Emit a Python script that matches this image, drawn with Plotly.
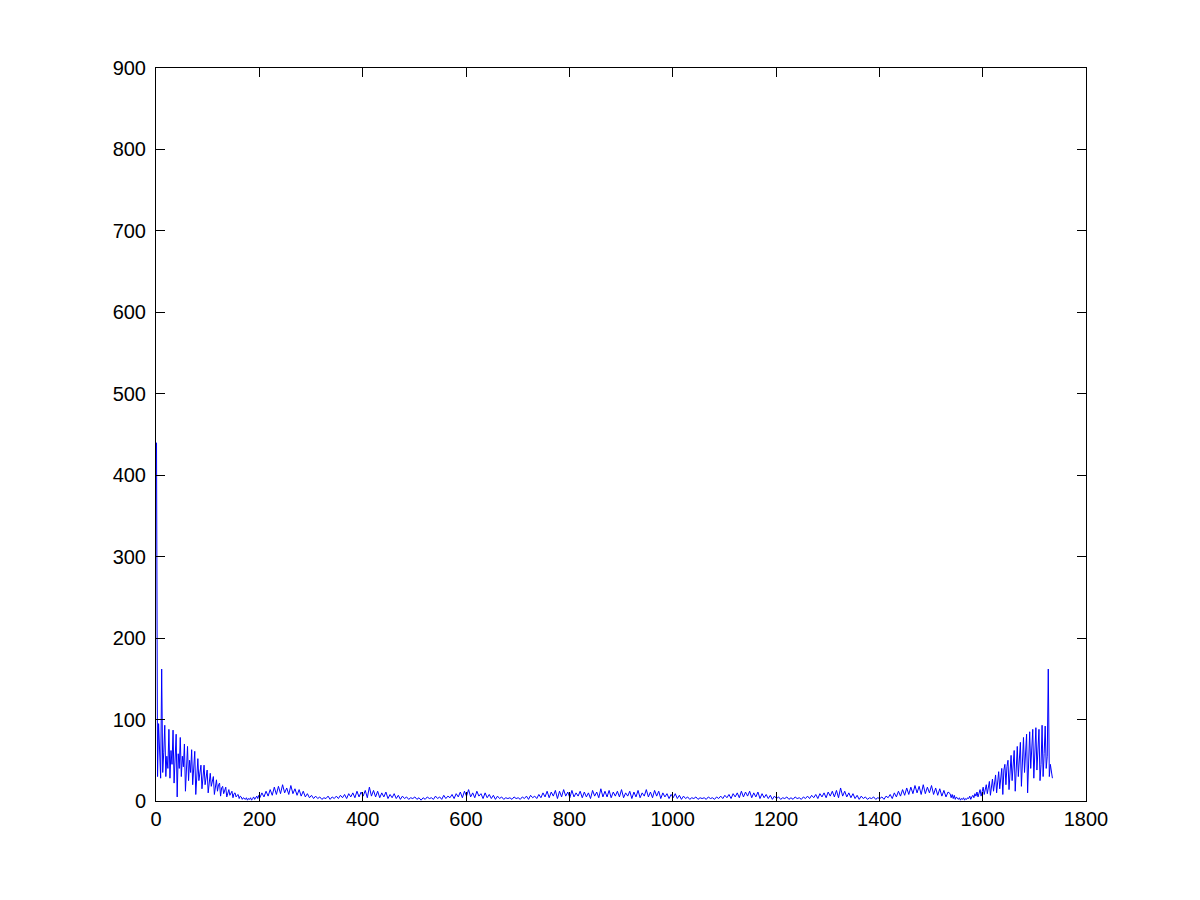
import plotly.graph_objects as go

# Magnitude spectrum values.
# Left and right ends are read every 2 samples, the middle every 4 samples.
left_start, left_step = 1, 2
mag_left = [
    440, 30, 95, 45, 28, 162, 35, 60, 93, 30,
    55, 40, 88, 28, 62, 45, 87, 22, 50, 82,
    5, 58, 40, 78, 30, 55, 42, 70, 12, 48,
    67, 25, 50, 35, 63, 20, 45, 61, 8, 40,
    52, 25, 38, 44, 15, 35, 44, 20, 30, 38,
    10, 28, 34, 18, 25, 30, 8, 22, 26, 12,
    20, 22, 6, 16, 18, 9, 14, 17, 5, 12,
    14, 7, 10, 12, 4, 9, 10, 5, 7, 8,
    3, 6, 5, 2, 4, 3, 2, 4, 1, 3,
    2, 4, 1, 3, 5, 2, 4, 6, 3, 7,
]

mid_start, mid_step = 201, 4
mag_mid = [
    4, 10, 5, 12, 6, 14, 7, 17, 8, 18,
    9, 20, 10, 16, 8, 19, 9, 15, 7, 14,
    6, 12, 5, 9, 4, 7, 3, 6, 3, 5,
    2, 4, 3, 6, 2, 5, 3, 6, 3, 7,
    4, 8, 3, 9, 5, 10, 4, 12, 5, 11,
    6, 13, 4, 17, 6, 13, 5, 12, 4, 10,
    5, 11, 3, 8, 4, 9, 3, 7, 2, 6,
    3, 5, 2, 4, 3, 5, 2, 4, 1, 4,
    2, 5, 3, 4, 2, 6, 3, 5, 2, 7,
    3, 6, 4, 8, 3, 9, 5, 11, 4, 12,
    6, 14, 5, 10, 4, 12, 6, 9, 3, 10,
    4, 8, 3, 7, 2, 6, 3, 5, 2, 4,
    3, 4, 2, 5, 3, 4, 2, 5, 3, 6,
    2, 7, 4, 6, 3, 8, 4, 10, 5, 12,
    4, 11, 6, 13, 3, 12, 5, 14, 6, 11,
    4, 13, 5, 10, 6, 12, 4, 11, 5, 10,
    3, 13, 6, 11, 4, 15, 5, 12,
    5, 13, 4, 11, 6, 12, 5, 14, 4, 10,
    6, 12, 3, 11, 5, 13, 4, 10, 6, 14,
    5, 11, 4, 13, 6, 12, 3, 10, 5, 9,
    3, 8, 4, 9, 3, 7, 2, 6, 3, 5,
    2, 4, 3, 5, 2, 4, 3, 4, 2, 5,
    3, 4, 2, 5, 3, 6, 3, 7, 4, 8,
    3, 9, 5, 10, 4, 12, 5, 11, 6, 12,
    4, 10, 5, 11, 3, 9, 4, 8, 3, 7,
    2, 6, 3, 5, 2, 4, 3, 5, 2, 4,
    2, 5, 3, 4, 2, 5, 3, 6, 3, 7,
    4, 8, 3, 9, 5, 10, 4, 11, 6, 12,
    5, 13, 4, 16, 6, 12, 5, 10, 4, 9,
    3, 7, 2, 6, 3, 5, 2, 4, 3, 5,
    2, 4, 3, 5, 2, 6, 4, 8, 3, 10,
    5, 12, 6, 14, 7, 16, 8, 17, 9, 19,
    10, 18, 8, 20, 9, 17, 10, 19, 8, 16,
    7, 15, 6, 13, 5, 11,
]

right_start, right_step = 1537, 2
mag_right = [
    9, 4, 8, 3, 7, 2, 5, 3, 2, 4,
    1, 3, 2, 4, 1, 3, 2, 4, 3, 6,
    2, 5, 7, 4, 9, 6, 11, 5, 10, 14,
    6, 12, 17, 8, 15, 20, 9, 18, 24, 7,
    22, 27, 12, 25, 32, 10, 30, 36, 15, 33,
    40, 8, 38, 45, 20, 42, 50, 14, 46, 56,
    25, 48, 62, 12, 50, 67, 30, 55, 72, 18,
    52, 78, 35, 58, 82, 10, 50, 85, 40, 60,
    88, 28, 55, 90, 38, 62, 88, 25, 45, 93,
    30, 58, 92, 40, 55, 162, 30, 45, 38, 28,
]

x_ticks = [0, 200, 400, 600, 800, 1000, 1200, 1400, 1600, 1800]
y_ticks = [0, 100, 200, 300, 400, 500, 600, 700, 800, 900]

sample_index = (
    [left_start + left_step * i for i in range(len(mag_left))]
    + [mid_start + mid_step * i for i in range(len(mag_mid))]
    + [right_start + right_step * i for i in range(len(mag_right))]
)
magnitude = mag_left + mag_mid + mag_right

fig = go.Figure()
fig.add_trace(go.Scatter(
    x=sample_index, y=magnitude, mode="lines",
    line=dict(color="#0000FF", width=1),
    showlegend=False, hoverinfo="skip",
))

axis_common = dict(
    showline=True, linecolor="black", linewidth=1, mirror="ticks",
    ticks="inside", ticklen=9, tickwidth=1, tickcolor="black",
    showgrid=False, zeroline=False,
    tickfont=dict(family="Liberation Sans, Arial, sans-serif", size=20, color="black"),
)

fig.update_layout(
    width=1200, height=900,
    margin=dict(l=148, r=122, t=60, b=107),
    paper_bgcolor="white", plot_bgcolor="white",
    xaxis=dict(range=[0, 1800], tickmode="array", tickvals=x_ticks,
               ticktext=[str(v) for v in x_ticks], **axis_common),
    yaxis=dict(range=[0, 900], tickmode="array", tickvals=y_ticks,
               ticktext=[str(v) for v in y_ticks], ticklabelstandoff=5,
               **axis_common),
)

fig.write_html("out.html")
